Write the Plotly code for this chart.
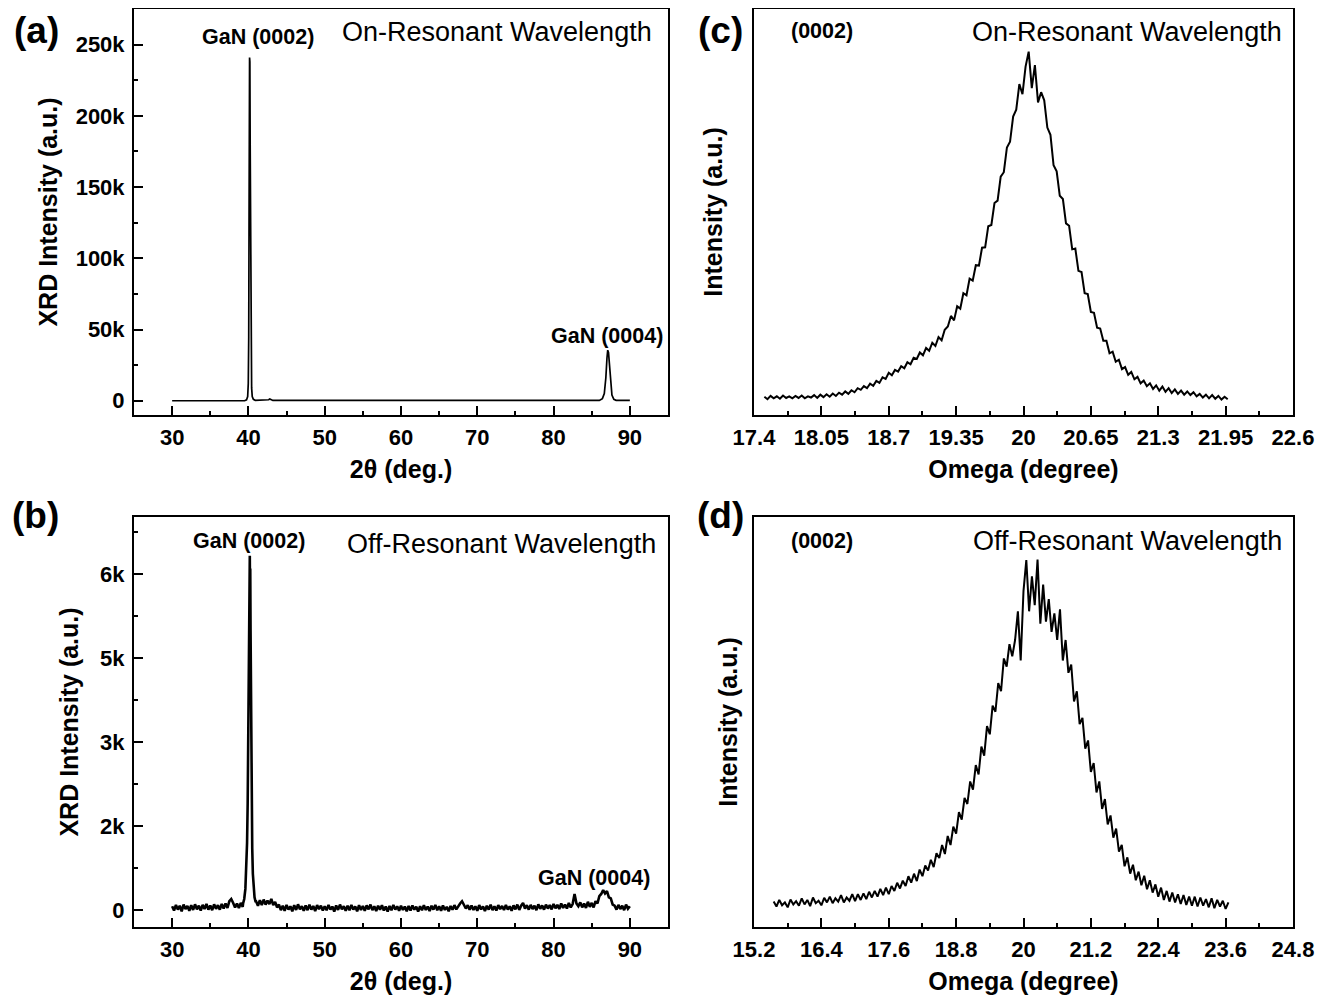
import numpy as np
import plotly.graph_objects as go

# ---------------- data ----------------
# (a) 2theta scan, on-resonant wavelength
A_TT = [30, 39.5, 39.75, 39.9, 39.98, 40.04, 40.08, 40.11, 40.15, 40.19, 40.23, 40.27, 40.31,
        40.36, 40.42, 40.5, 40.65, 40.9, 42.4, 42.65, 42.8, 42.95, 43.2, 86.0, 86.4, 86.65,
        86.85, 87.0, 87.1, 87.2, 87.3, 87.45, 87.65, 87.9, 88.2, 90]
A_INT = [0, 0, 600, 3000, 12000, 45000, 126000, 200000, 241000, 238000, 180000, 105000, 61000,
         28000, 9000, 3000, 1000, 300, 200, 700, 1200, 700, 200, 200, 1500, 5000,
         16000, 30000, 35500, 34000, 27000, 13000, 4000, 1000, 300, 200]

# (b) 2theta scan, off-resonant wavelength (step 0.25 deg outside the main peak)
B_STEP = 0.25
B_LEFT_START = 30.0
B_LEFT_INT = [70, -5, 95, 10, 80, -20, 100, 20, 75, -10, 90, 5, 105, 15, 80, -5, 95, 20, 110, 10,
              85, 0, 105, 25, 90, 10, 110, 30, 120, 40, 160, 200, 130, 50, 120, 40, 130, 60]
B_PEAK_TT = [39.3, 39.45, 39.6, 39.72, 39.82, 39.9, 39.97, 40.03, 40.08, 40.13, 40.18, 40.21,
             40.24, 40.28, 40.32, 40.37, 40.43, 40.5, 40.58, 40.68, 40.8, 40.92]
B_PEAK_INT = [120, 200, 380, 700, 1200, 1900, 2900, 4000, 5100, 6000, 6330, 5700,
              6100, 5000, 3900, 2800, 1800, 1100, 650, 380, 230, 160]
B_RIGHT_START = 41.0
B_RIGHT_INT = [160, 80, 180, 90, 190, 100, 170, 110, 200, 90, 150, 50,
               100, 0, 80, -10, 95, 10, 70, -20, 90, 5, 105, 15, 70, -10, 85, 0, 100, 10, 75, -15, 90, 20, 80, -5, 70,
               0, 95, 10, 65, -25, 85, 5, 100, 15, 70, -10, 80, 0, 95, 10, 65, -20, 90, 5, 75,
               -10, 85, 15, 100, 0, 70, -15, 80, 10, 90, -5, 65, -25, 75, 0, 95, 10, 70, -10, 80,
               5, 65, -20, 75, -5, 85, 10, 60, -25, 70, 0, 90, 5, 65, -15, 80, 10, 95, 0, 70,
               -10, 85, 5, 60, -20, 75, 10, 90, 15, 80,
               120, 160, 80, 30, 90, 10,
               85, 5, 70, -10, 90, 15, 65, -15, 80, 10, 100, 0, 70, -5, 90, 20, 75, 5, 95, 10, 70, -10, 85, 15, 100, 5, 80,
               130, 30, 90,
               10, 95, 20, 80, 0, 105, 25, 85, 10, 100, 30, 90, 15, 110, 35, 95, 20, 120, 40, 100, 30, 130, 50, 110,
               290, 120, 70,
               140, 50, 120, 40, 150, 60, 130, 50, 160, 120,
               250, 290, 360, 300, 340, 230, 210, 100,
               80, 10, 95, 20, 80, 0, 100, 25, 70]

# (c) omega rocking curve, on-resonant (normalised intensity, step 0.03 deg)
C_START = 17.50
C_STEP = 0.03
C_INT = [0.045, 0.039, 0.047, 0.041, 0.046, 0.040, 0.048, 0.042, 0.046, 0.041,
         0.047, 0.042, 0.048, 0.041, 0.046, 0.043, 0.049, 0.042, 0.050, 0.044,
         0.051, 0.045, 0.053, 0.047, 0.055, 0.050, 0.058, 0.052, 0.061, 0.056,
         0.066, 0.062, 0.071, 0.066, 0.077, 0.072, 0.084, 0.079, 0.093, 0.089,
         0.104, 0.098, 0.111, 0.107, 0.120, 0.115, 0.130, 0.125, 0.141, 0.138,
         0.154, 0.147, 0.165, 0.158, 0.178, 0.170, 0.192, 0.184, 0.210, 0.218,
         0.244, 0.233, 0.268, 0.262, 0.300, 0.295, 0.336, 0.331, 0.369, 0.368,
         0.412, 0.413, 0.465, 0.468, 0.522, 0.528, 0.587, 0.598, 0.659, 0.673,
         0.735, 0.752, 0.815, 0.790, 0.858, 0.895, 0.805, 0.862, 0.770, 0.795,
         0.775, 0.708, 0.690, 0.615, 0.600, 0.540, 0.532, 0.472, 0.466, 0.408,
         0.410, 0.355, 0.352, 0.300, 0.298, 0.254, 0.252, 0.215, 0.213, 0.183,
         0.183, 0.152, 0.156, 0.131, 0.136, 0.113, 0.118, 0.099, 0.106, 0.088,
         0.094, 0.078, 0.085, 0.071, 0.078, 0.064, 0.073, 0.060, 0.070, 0.057,
         0.066, 0.054, 0.063, 0.052, 0.060, 0.050, 0.058, 0.049, 0.056, 0.046,
         0.052, 0.043, 0.050, 0.041, 0.049, 0.040, 0.047, 0.038, 0.045, 0.039]

# (d) omega rocking curve, off-resonant (normalised intensity, step 0.05 deg)
D_START = 15.55
D_STEP = 0.05
D_INT = [0.062, 0.050, 0.066, 0.053, 0.060, 0.048, 0.067, 0.055, 0.063, 0.052,
         0.070, 0.055, 0.066, 0.051, 0.072, 0.058, 0.064, 0.053, 0.071, 0.060,
         0.074, 0.058, 0.070, 0.062, 0.078, 0.060, 0.072, 0.064, 0.080, 0.063,
         0.080, 0.066, 0.082, 0.068, 0.086, 0.072, 0.088, 0.074, 0.093, 0.078,
         0.096, 0.080, 0.100, 0.088, 0.108, 0.094, 0.113, 0.100, 0.124, 0.108,
         0.130, 0.112, 0.140, 0.124, 0.150, 0.138, 0.164, 0.146, 0.180, 0.168,
         0.200, 0.178, 0.222, 0.200, 0.245, 0.228, 0.280, 0.262, 0.315, 0.300,
         0.355, 0.335, 0.395, 0.372, 0.440, 0.418, 0.490, 0.470, 0.540, 0.525,
         0.595, 0.575, 0.655, 0.635, 0.690, 0.660, 0.700, 0.770, 0.650, 0.820,
         0.895, 0.770, 0.855, 0.785, 0.896, 0.740, 0.835, 0.745, 0.800, 0.720,
         0.765, 0.700, 0.775, 0.650, 0.700, 0.620, 0.640, 0.550, 0.575, 0.495,
         0.510, 0.435, 0.455, 0.378, 0.400, 0.328, 0.355, 0.288, 0.312, 0.250,
         0.272, 0.218, 0.240, 0.184, 0.200, 0.148, 0.170, 0.130, 0.152, 0.114,
         0.135, 0.102, 0.125, 0.092, 0.114, 0.084, 0.104, 0.074, 0.096, 0.066,
         0.088, 0.062, 0.084, 0.060, 0.080, 0.056, 0.078, 0.054, 0.074, 0.052,
         0.074, 0.050, 0.072, 0.052, 0.068, 0.048, 0.070, 0.046, 0.066, 0.050,
         0.064, 0.044, 0.060]

# tick labels
TT_TICKS = [30, 40, 50, 60, 70, 80, 90]
A_YTICKS = [0, 50000, 100000, 150000, 200000, 250000]
A_YTEXT = ["0", "50k", "100k", "150k", "200k", "250k"]
B_YTICKS = [0, 1500, 3000, 4500, 6000]
B_YTEXT = ["0", "2k", "3k", "5k", "6k"]
C_XTICKS = [17.4, 18.05, 18.7, 19.35, 20.0, 20.65, 21.3, 21.95, 22.6]
C_XTEXT = ["17.4", "18.05", "18.7", "19.35", "20", "20.65", "21.3", "21.95", "22.6"]
D_XTICKS = [15.2, 16.4, 17.6, 18.8, 20.0, 21.2, 22.4, 23.6, 24.8]
D_XTEXT = ["15.2", "16.4", "17.6", "18.8", "20", "21.2", "22.4", "23.6", "24.8"]

# ---------------- build series ----------------
b_left_x = [B_LEFT_START + B_STEP * i for i in range(len(B_LEFT_INT))]
b_right_x = [B_RIGHT_START + B_STEP * i for i in range(len(B_RIGHT_INT))]
B_TT = b_left_x + B_PEAK_TT + b_right_x
B_INT = B_LEFT_INT + B_PEAK_INT + B_RIGHT_INT
C_OMEGA = [C_START + C_STEP * i for i in range(len(C_INT))]
D_OMEGA = [D_START + D_STEP * i for i in range(len(D_INT))]

# ---------------- figure ----------------
W, H = 1307, 988   # page has 8px body margin -> figure fills 1323x1004 window
OFF = 8


def px(xp, yp):
    return (xp - OFF) / W, 1 - (yp - OFF) / H


FONT = "Liberation Sans, Arial, sans-serif"
BLACK = "black"

fig = go.Figure()
fig.add_trace(go.Scatter(x=A_TT, y=A_INT, mode="lines", line=dict(color=BLACK, width=1.7),
                         xaxis="x", yaxis="y", showlegend=False))
fig.add_trace(go.Scatter(x=B_TT, y=B_INT, mode="lines", line=dict(color=BLACK, width=2.6),
                         xaxis="x2", yaxis="y2", showlegend=False))
fig.add_trace(go.Scatter(x=C_OMEGA, y=C_INT, mode="lines", line=dict(color=BLACK, width=2),
                         xaxis="x3", yaxis="y3", showlegend=False))
fig.add_trace(go.Scatter(x=D_OMEGA, y=D_INT, mode="lines", line=dict(color=BLACK, width=2),
                         xaxis="x4", yaxis="y4", showlegend=False))

LEFT_DOM = [px(134, 0)[0], px(668, 0)[0]]
RIGHT_DOM = [px(754, 0)[0], px(1293, 0)[0]]
TOP_DOM = [px(0, 415)[1], px(0, 9)[1]]
BOT_DOM = [px(0, 927)[1], px(0, 517)[1]]

tickfont = dict(family=FONT, size=22, color=BLACK, weight="bold")
titlefont = dict(family=FONT, size=25, color=BLACK, weight="bold")


def xax(dom, anchor, rng, tickvals, ticktext, minor_tick0, minor_dtick, title):
    return dict(domain=dom, anchor=anchor, range=rng, tickmode="array", tickvals=tickvals,
                ticktext=ticktext, ticks="inside", ticklen=9, tickwidth=2, tickcolor=BLACK,
                minor=dict(ticks="inside", ticklen=4, tickwidth=1.5, tickcolor=BLACK,
                           tickmode="linear", tick0=minor_tick0, dtick=minor_dtick),
                showline=True, mirror=True, linecolor=BLACK, linewidth=2,
                showgrid=False, zeroline=False, tickfont=tickfont, ticklabelstandoff=2,
                title=dict(text=title, font=titlefont, standoff=11), automargin=False)


def yax(dom, anchor, rng, tickvals, ticktext, minor_dtick, title, standoff, show=True):
    d = dict(domain=dom, anchor=anchor, range=rng, showline=True, mirror=True, linecolor=BLACK,
             linewidth=2, showgrid=False, zeroline=False,
             title=dict(text=title, font=titlefont, standoff=standoff), automargin=False)
    if show:
        d.update(tickmode="array", tickvals=tickvals, ticktext=ticktext, ticks="inside", ticklen=9,
                 tickwidth=2, tickcolor=BLACK, tickfont=tickfont, ticklabelstandoff=3,
                 minor=dict(ticks="inside", ticklen=4, tickwidth=1.5, tickcolor=BLACK,
                            tickmode="linear", tick0=0, dtick=minor_dtick))
    else:
        d.update(ticks="", showticklabels=False)
    return d


fig.update_layout(
    width=W, height=H, autosize=False,
    margin=dict(l=0, r=0, t=0, b=0, pad=0),
    paper_bgcolor="white", plot_bgcolor="white",
    font=dict(family=FONT, color=BLACK),
    xaxis=xax(LEFT_DOM, "y", [25, 95], TT_TICKS, [str(v) for v in TT_TICKS], 25, 5, "2θ (deg.)"),
    yaxis=yax(TOP_DOM, "x", [-10000, 275000], A_YTICKS, A_YTEXT, 25000, "XRD Intensity (a.u.)", 11),
    xaxis2=xax(LEFT_DOM, "y2", [25, 95], TT_TICKS, [str(v) for v in TT_TICKS], 25, 5, "2θ (deg.)"),
    yaxis2=yax(BOT_DOM, "x2", [-300, 7020], B_YTICKS, B_YTEXT, 750, "XRD Intensity (a.u.)", 14),
    xaxis3=xax(RIGHT_DOM, "y3", [17.3999, 22.6001], C_XTICKS, C_XTEXT, 17.4, 0.325, "Omega (degree)"),
    yaxis3=yax(TOP_DOM, "x3", [0, 1], None, None, None, "Intensity (a.u.)", 22, show=False),
    xaxis4=xax(RIGHT_DOM, "y4", [15.1999, 24.8001], D_XTICKS, D_XTEXT, 15.2, 0.6, "Omega (degree)"),
    yaxis4=yax(BOT_DOM, "x4", [0, 1], None, None, None, "Intensity (a.u.)", 7, show=False),
)

ANNOT = [
    # text, x, y (page px), size, bold, xanchor, yanchor
    ("(a)", 36, 8, 37, True, "center", "top"),
    ("(b)", 35, 515, 37, True, "center", "middle"),
    ("(c)", 720, 8, 37, True, "center", "top"),
    ("(d)", 720, 515, 37, True, "center", "middle"),
    ("GaN (0002)", 258, 37, 21.5, True, "center", "middle"),
    ("On-Resonant Wavelength", 654, 32, 27, False, "right", "middle"),
    ("GaN (0004)", 607, 336, 21.5, True, "center", "middle"),
    ("GaN (0002)", 249, 541, 21.5, True, "center", "middle"),
    ("Off-Resonant Wavelength", 658, 544, 27, False, "right", "middle"),
    ("GaN (0004)", 594, 878, 21.5, True, "center", "middle"),
    ("(0002)", 822, 31, 21.5, True, "center", "middle"),
    ("On-Resonant Wavelength", 1284, 32, 27, False, "right", "middle"),
    ("(0002)", 822, 541, 21.5, True, "center", "middle"),
    ("Off-Resonant Wavelength", 1284, 541, 27, False, "right", "middle"),
]
for text, xp, yp, size, bold, xanc, yanc in ANNOT:
    ax_, ay_ = px(xp, yp)
    fig.add_annotation(text=text, x=ax_, y=ay_, xref="paper", yref="paper", showarrow=False,
                       xanchor=xanc, yanchor=yanc,
                       font=dict(family=FONT, size=size, color=BLACK,
                                 weight="bold" if bold else "normal"))

fig.write_html("out.html")
